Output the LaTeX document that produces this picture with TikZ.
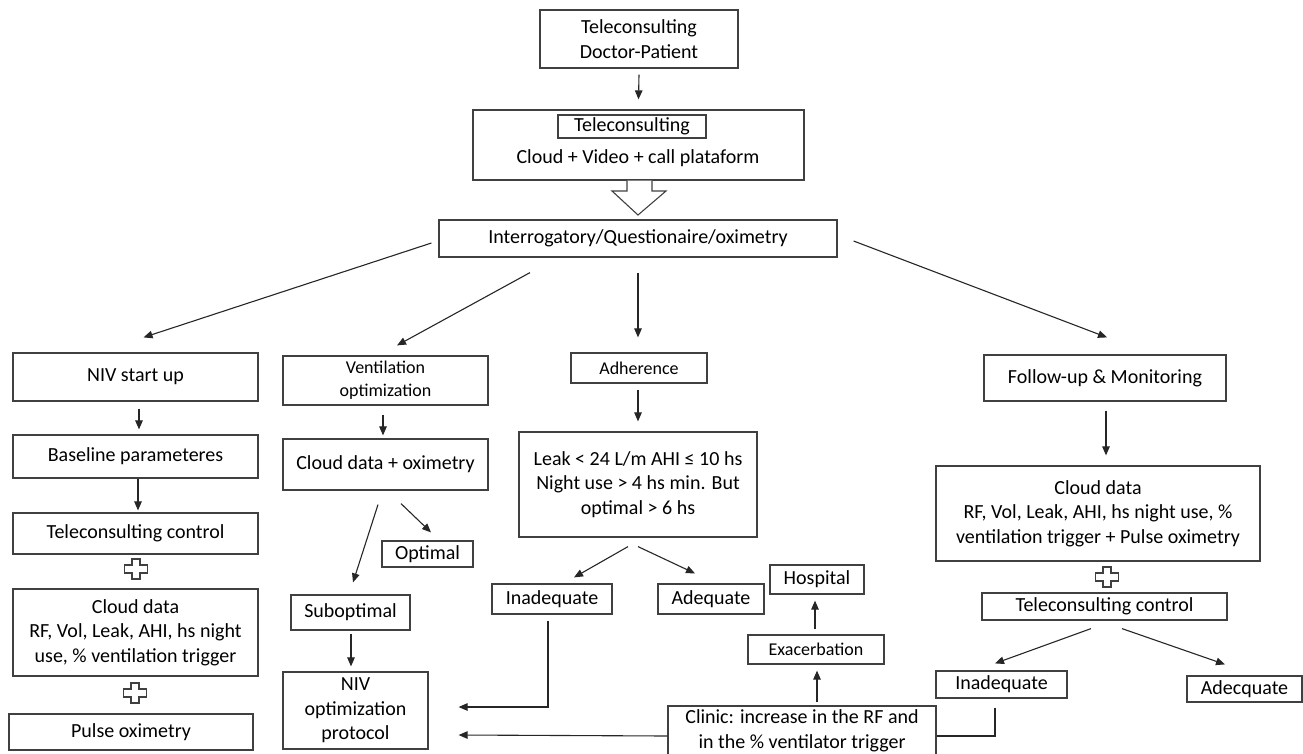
\documentclass[tikz,border=0pt]{standalone}
\usepackage{fontspec}
\setmainfont{Carlito}
\usetikzlibrary{arrows.meta,calc}
\newcommand{\fmain}{\fontsize{20}{24.5}\selectfont}
\newcommand{\fsmall}{\fontsize{18}{23}\selectfont}
\tikzset{
 box/.style={draw=black!75, line width=1.2pt, inner sep=0pt, align=center, text=black, font=\fmain},
 txt/.style={inner sep=0pt, align=center, text=black, font=\fmain},
 arr/.style={draw=black!85, line width=1.1pt, -{Triangle[length=9pt,width=7.5pt]}},
 ln/.style={draw=black!85, line width=1.1pt},
 hollow/.style={draw=black!75, line width=1.1pt, fill=white, line join=miter},
}
% [opts]{name}{x1}{y1}{x2}{y2}{text}
\newcommand{\bx}[7][]{\node[box,minimum width={#5-#3},minimum height={#6-#4},#1] (#2) at ({(#3+#5)/2},{(#4+#6)/2}) {#7};}
\newcommand{\plusmark}[2]{\draw[hollow] ($(#1,#2)+(-11.5,-4)$) -- ++(7.5,0) -- ++(0,-6) -- ++(8,0) -- ++(0,6) -- ++(7.5,0) -- ++(0,8) -- ++(-7.5,0) -- ++(0,6) -- ++(-8,0) -- ++(0,-6) -- ++(-7.5,0) -- cycle;}
\begin{document}
\begin{tikzpicture}[x=1pt,y=-1pt]
\useasboundingbox (0,0) rectangle (1303,753);
% top
\bx{tdp}{540}{10}{738}{68}{Teleconsulting\\Doctor-Patient}
\bx{tc}{473}{110}{804}{180}{}
\bx{tcin}{558}{115}{706}{138}{Teleconsulting}
\node[txt] (tctext) at (638,158) {Cloud + Video + call plataform};
\bx{int}{439}{220}{837}{257}{Interrogatory/Questionaire/oximetry}
% hollow arrow
\draw[hollow] (tc.south -| 627,0) -- (627,191) -- (612,191) -- (638,215) -- (666,191) -- (652,191) -- (tc.south -| 652,0);
% second row
\bx{niv}{13}{353}{258}{401}{NIV start up}
\bx[font=\fsmall]{vent}{283}{356}{488}{405}{Ventilation\\optimization}
\bx[font=\fsmall]{adh}{571}{353}{707}{383}{Adherence}
\bx{fu}{984}{355}{1226}{401}{Follow-up \& Monitoring}
% left column
\bx{base}{13}{435}{258}{478}{Baseline parameteres}
\bx{tcl}{13}{513}{258}{554}{Teleconsulting control}
\bx{cdl}{13}{589}{258}{676}{Cloud data\\RF, Vol, Leak, AHI, hs night\\use, \% ventilation trigger}
\bx{pulse}{9}{714}{253}{750}{Pulse oximetry}
\plusmark{136}{569}
\plusmark{135}{693}
% ventilation column
\bx{cdo}{283}{439}{488}{490}{Cloud data + oximetry}
\bx{opt}{382}{541}{473}{567}{Optimal}
\bx{sub}{291}{595}{410}{630}{Suboptimal}
\bx{nivp}{283}{672}{428}{749}{NIV\\optimization\\protocol}
% adherence column
\bx{leak}{519}{432}{757}{537}{Leak < 24 L/m AHI ≤ 10 hs\\Night use > 4 hs min. But\\optimal > 6 hs}
\bx{inad1}{492}{584}{612}{614}{Inadequate}
\bx{adeq}{658}{584}{764}{614}{Adequate}
\bx{hosp}{770}{565}{864}{594}{Hospital}
\bx[font=\fsmall]{exac}{748}{635}{884}{664}{Exacerbation}
\bx{clinic}{668}{706}{936}{756}{Clinic: increase in the RF and\\in the \% ventilator trigger}
% right column
\bx{cdr}{936}{466}{1260}{561}{Cloud data\\RF, Vol, Leak, AHI, hs night use, \%\\ventilation trigger + Pulse oximetry}
\plusmark{1107}{577}
\bx{tcr}{982}{593}{1227}{620}{Teleconsulting control}
\bx{inad2}{936}{671}{1067}{698}{Inadequate}
\bx{adq2}{1187}{676}{1302}{702}{Adecquate}
% connectors
\draw[arr] ([yshift=-6pt]tdp.south) -- ([yshift=10pt]tc.north);
\draw[arr] ([shift={(-7,4.5)}]int.west) -- ([shift={(8,-15)}]niv.north);
\draw[arr] ([shift={(-108,15)}]int.south) -- ([shift={(11.5,-10)}]vent.north);
\draw[arr] ([shift={(0,15)}]int.south) -- ([shift={(-1,-15)}]adh.north);
\draw[arr] ([shift={(16,2.5)}]int.east) -- ([shift={(2,-17)}]fu.north);
\draw[arr] ([shift={(3.5,7)}]niv.south) -- ([shift={(3.5,-5)}]base.north);
\draw[arr] ([shift={(2.5,0)}]base.south) -- ([shift={(2.5,-2)}]tcl.north);
\draw[arr] ([shift={(-2.5,9)}]vent.south) -- ([shift={(-2.5,-3)}]cdo.north);
\draw[arr] ([shift={(-7.5,14)}]cdo.south) -- ([shift={(2.5,-12)}]sub.north);
\draw[arr] ([shift={(15.5,13)}]cdo.south) -- ([shift={(3.5,-8)}]opt.north);
\draw[arr] ([shift={(0.5,3)}]sub.south) -- ([shift={(-4.5,-5)}]nivp.north);
\draw[arr] ([shift={(-1,6)}]adh.south) -- ([shift={(0,-10)}]leak.north);
\draw[arr] ([shift={(-10,9)}]leak.south) -- ([shift={(22,-6)}]inad1.north);
\draw[arr] ([shift={(0,9)}]leak.south) -- ([shift={(-16,-10)}]adeq.north);
\draw[arr] ([shift={(-4,6)}]inad1.south) |- ([shift={(30,-3.5)}]nivp.east);
\draw[arr] ([yshift=-5pt]clinic.west) -- ([shift={(30,24.5)}]nivp.east);
\draw[arr] ([shift={(15,-3)}]clinic.north) -- ([shift={(1,6)}]exac.south);
\draw[arr] ([shift={(-1,-5)}]exac.north) -- ([shift={(-2,6)}]hosp.south);
\draw[arr] ([shift={(1,9)}]fu.south) -- ([shift={(8,-10)}]cdr.north);
\draw[arr] ([shift={(-13.5,8)}]tcr.south) -- ([shift={(-6.5,-7)}]inad2.north);
\draw[arr] ([shift={(17.5,8)}]tcr.south) -- ([shift={(-19.5,-11)}]adq2.north);
\draw[ln] ([shift={(-6.5,9)}]inad2.south) |- ([yshift=-5pt]clinic.east);
\end{tikzpicture}
\end{document}
